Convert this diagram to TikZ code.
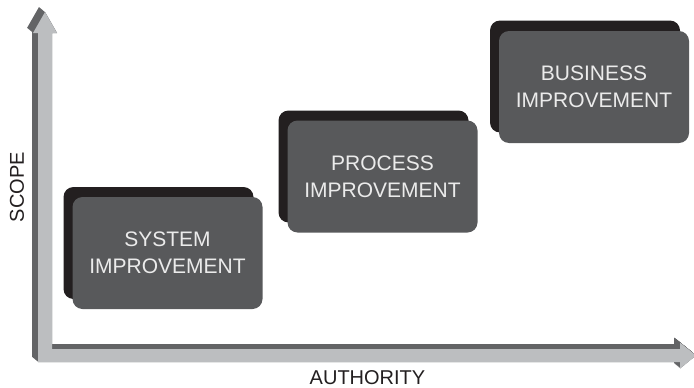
\documentclass[tikz,border=0pt]{standalone}
\usepackage{fontspec}
\setmainfont{Liberation Sans}
\definecolor{boxgrey}{HTML}{58595B}
\definecolor{boxblack}{HTML}{231F20}
\definecolor{axislight}{HTML}{BCBEC0}
\definecolor{axisdark}{HTML}{636466}
\tikzset{
	stepfront/.style={fill=boxgrey, rounded corners=10pt, minimum width=190pt, minimum height=112pt, inner sep=0pt,
		text=white!92!black, align=center, font=\fontsize{21}{27}\selectfont},
	stepback/.style={fill=boxblack, rounded corners=10pt, minimum width=190pt, minimum height=112pt, inner sep=0pt},
	axislabel/.style={text=boxblack, font=\fontsize{20}{24}\selectfont}
}
\begin{document}
\begin{tikzpicture}[x=1pt,y=-1pt]
		\useasboundingbox (0,0) rectangle (694,388);
		\def\axes{(38,362) -- (38,33) -- (33,33) -- (45,12) -- (57,33) -- (52,33) -- (52,349) -- (680,349) -- (680,342.5) -- (696,355.5) -- (680,368.5) -- (680,362) -- cycle}
		\foreach \d in {0,0.5,...,6}
			\fill[axisdark, shift={(-\d,-\d*5/6)}] \axes;
		\fill[axislight] \axes;
		\node[axislabel, rotate=90] (L_y) at (17,187) {SCOPE};
		\node[axislabel] (L_x) at (367.5,378) {AUTHORITY};
		\node[stepback] (B_0_0) at (158.5,243) {};
		\node[stepfront] (B_0_1) at (167.5,253) {SYSTEM\\IMPROVEMENT};
		\node[stepback] (B_1_0) at (373.5,166.5) {};
		\node[stepfront] (B_1_1) at (382.5,176.5) {PROCESS\\IMPROVEMENT};
		\node[stepback] (B_2_0) at (585,76.5) {};
		\node[stepfront] (B_2_1) at (594,87) {BUSINESS\\IMPROVEMENT};
\end{tikzpicture}
\end{document}
